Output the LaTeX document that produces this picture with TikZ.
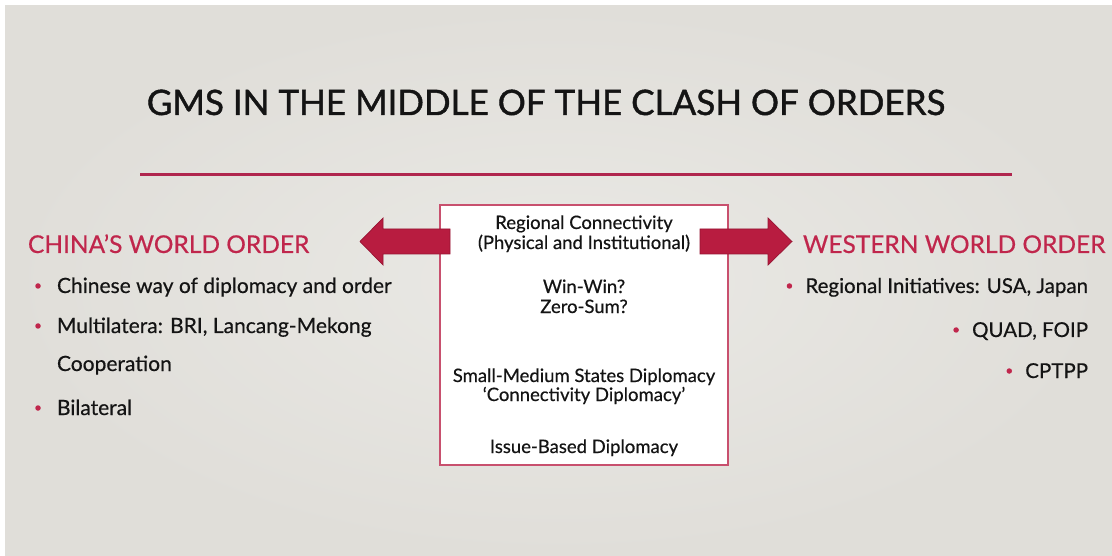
\documentclass[tikz,border=0pt]{standalone}
\usepackage{fontspec}
\setmainfont{Lato}[FakeBold=0.5]
\newfontfamily\titlefont{Lato}[FakeBold=1.2]
\usetikzlibrary{positioning, shadows}

\definecolor{slidebg}{RGB}{224,222,217}
\definecolor{slidelight}{RGB}{234,233,229}
\definecolor{rulered}{RGB}{176,38,78}
\definecolor{headred}{RGB}{192,38,76}
\definecolor{arrowred}{RGB}{184,28,64}
\definecolor{arrowedge}{RGB}{150,20,50}
\definecolor{boxred}{RGB}{200,80,110}
\definecolor{ink}{RGB}{20,20,20}

\begin{document}
\begin{tikzpicture}[x=1pt, y=-1pt,
    every node/.style={inner sep=0pt, outer sep=0pt},
    titletext/.style={anchor=base, text=ink, font=\titlefont\fontsize{35}{35}\selectfont},
    heading/.style={anchor=base west, text=headred, font=\fontsize{24.5}{24.5}\selectfont},
    item/.style={anchor=base west, text=ink, font=\fontsize{21}{21}\selectfont},
    itemright/.style={item, anchor=base east, font=\fontsize{20.5}{20.5}\selectfont},
    boxline/.style={anchor=base, text=ink, font=\fontsize{18.5}{18.5}\selectfont},
    dot/.style={circle, fill=headred, minimum size=5.5pt},
    hubbox/.style={draw=boxred, line width=1.6pt, fill=white, minimum width=288pt, minimum height=260pt,
        drop shadow={shadow xshift=0.6pt, shadow yshift=-1.4pt, opacity=0.25}},
    bigarrow/.style={fill=arrowred, draw=arrowedge, line width=0.7pt, line join=miter}]

    % slide background
    \useasboundingbox (0,0) rectangle (1112,556);
    \fill[white] (0,0) rectangle (1112,556);
    \shade[inner color=slidelight, outer color=slidebg, shading=radial] (5,6) rectangle (1112,556);

    % title and rule
    \node (title) [titletext] at (546,115) {GMS IN THE MIDDLE OF THE CLASH OF ORDERS};
    \draw[rulered, line width=3pt] (140,175) -- (1012,175);

    % centre box
    \node (hub) [hubbox] at (584,335) {};
    \node (conn) [boxline] at (584,229) {Regional Connectivity};
    \node (phys) [boxline] at (584,249) {(Physical and Institutional)};
    \node (win) [boxline] at (584,293) {Win-Win?};
    \node (zero) [boxline] at (584,313) {Zero-Sum?};
    \node (small) [boxline] at (584,382) {Small-Medium States Diplomacy};
    \node (cdipl) [boxline] at (584,401) {‘Connectivity Diplomacy’};
    \node (issue) [boxline] at (584,453) {Issue-Based Diplomacy};

    % block arrows
    \draw[bigarrow] (450,229) -- (383,229) -- (383,218) -- (360,241.5) -- (383,265) -- (383,254) -- (450,254) -- cycle;
    \draw[bigarrow] (700,229) -- (768,229) -- (768,218) -- (792,241.5) -- (768,265) -- (768,254) -- (700,254) -- cycle;

    % left side
    \node (china) [heading] at (28,253) {CHINA’S WORLD ORDER};
    \node (way) [item] at (57,293) {Chinese way of diplomacy and order};
    \node (multi) [item] at (57,333) {Multilatera: BRI, Lancang-Mekong};
    \node (coop) [item] at (57,371) {Cooperation};
    \node (bilat) [item] at (57,415) {Bilateral};
    \foreach \t in {way, multi, bilat}
        \node [dot] at ([xshift=-19pt, yshift=7pt]\t.base west) {};

    % right side
    \node (west) [heading] at (803,253) {WESTERN WORLD ORDER};
    \node (init) [itemright] at (1088,293) {Regional Initiatives: USA, Japan};
    \node (quad) [itemright] at (1088,337) {QUAD, FOIP};
    \node (cptpp) [itemright] at (1088,378) {CPTPP};
    \foreach \t in {init, quad, cptpp}
        \node [dot] at ([xshift=-16pt, yshift=7pt]\t.base west) {};
\end{tikzpicture}
\end{document}
